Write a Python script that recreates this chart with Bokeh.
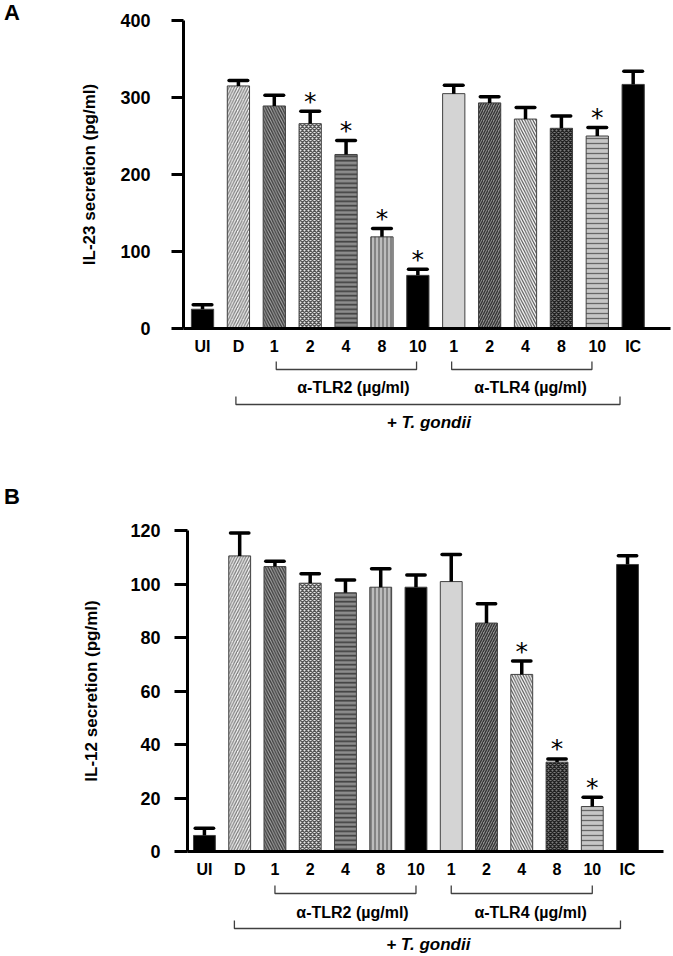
from bokeh.plotting import figure
from bokeh.layouts import column, row
from bokeh.models import Range1d, FixedTicker, ColumnDataSource, Div
from bokeh.core.properties import value
from bokeh.embed import file_html
from bokeh.resources import INLINE

# ---------------- data ----------------
categories = ["UI", "D", "1", "2", "4", "8", "10", "1", "2", "4", "8", "10", "IC"]
il23_mean = [25, 315, 289, 266, 226, 119, 69, 305, 293, 272, 260, 250, 317]
il23_err = [6, 7, 14, 16, 18, 11, 8, 11, 8, 15, 16, 11, 17]
il23_sig = [0, 0, 0, 1, 1, 1, 1, 0, 0, 0, 0, 1, 0]
il12_mean = [6, 110.5, 106.5, 100.3, 96.7, 98.8, 98.8, 100.9, 85.4, 66.2, 33.4, 16.8, 107.3]
il12_err = [2.7, 8.6, 2.0, 3.5, 4.8, 6.9, 4.6, 10.1, 7.2, 5.0, 1.2, 3.5, 3.3]
il12_sig = [0, 0, 0, 0, 0, 0, 0, 0, 0, 1, 1, 1, 0]
il23_ticks = [0, 100, 200, 300, 400]
il12_ticks = [0, 20, 40, 60, 80, 100, 120]
tlr2_group = (2, 6)
tlr4_group = (7, 11)
tg_group = (1, 12)

# ---------------- styles ----------------
FONT = "Liberation Sans"
bar_fill = ["black", "#f4f4f4", "#a8a8a8", "#e8e8e8", "#8c8c8c", "#bcbcbc", "black",
            "#d4d4d4", "#8e8e8e", "white", "#7c7c7c", "#c6c6c6", "black"]
bar_hatch = [" ", "/", "\\", "x", "-", "|", " ", " ", "/", "\\", "x", "-", " "]
bar_hcolor = ["black", "#7a7a7a", "#3c3c3c", "#555555", "#3c3c3c", "#666666", "black",
              "#d4d4d4", "#333333", "#555555", "#222222", "#666666", "black"]
bar_hscale = [6, 5.5, 5.5, 4, 4.5, 4, 6, 6, 5, 5.5, 4, 5, 6]
bar_hweight = [1, 1.3, 1.4, 1.4, 1.6, 1.3, 1, 1, 1.3, 1.2, 1.4, 1.3, 1]

W = 673
LETTER_W = 28


def letter_div(letter, pad_top):
    html = ('<div style="font-family:\'Liberation Sans\',Arial,sans-serif;font-weight:bold;'
            'font-size:22px;line-height:22px;color:black;padding-left:4px;padding-top:%dpx">%s</div>'
            % (pad_top, letter))
    return Div(text=html, width=LETTER_W, height=pad_top + 26, margin=0)


def main_panel(means, errs, sig, ticks, ylabel, x_rng, frame_left, border_right,
               border_top, frame_h, tick_out, lab_standoff, title_standoff):
    x = list(range(len(categories)))
    hi = [m + e for m, e in zip(means, errs)]
    src = ColumnDataSource(dict(
        x=x, top=means, hi=hi,
        cl=[v - 0.26 for v in x], cr=[v + 0.26 for v in x],
        fill=bar_fill, hatch=bar_hatch, hcolor=bar_hcolor, hscale=bar_hscale, hweight=bar_hweight,
    ))
    bottom_border = 32
    p = figure(width=W - LETTER_W, height=border_top + frame_h + bottom_border,
               x_range=x_rng, y_range=Range1d(0, ticks[-1]),
               output_backend="svg", toolbar_location=None,
               min_border_left=frame_left - LETTER_W, min_border_right=border_right,
               min_border_top=border_top, min_border_bottom=bottom_border)
    p.outline_line_color = None
    p.grid.visible = False

    yax = p.yaxis[0]
    yax.ticker = FixedTicker(ticks=ticks)
    yax.axis_line_width = 3
    yax.axis_line_color = "black"
    yax.major_tick_line_width = 3
    yax.major_tick_line_color = "black"
    yax.major_tick_out = tick_out
    yax.major_tick_in = 0
    yax.minor_tick_out = 0
    yax.minor_tick_in = 0
    yax.major_label_standoff = lab_standoff
    yax.major_label_text_font = FONT
    yax.major_label_text_font_style = "bold"
    yax.major_label_text_font_size = "18px"
    yax.major_label_text_color = "black"
    yax.axis_label = ylabel
    yax.axis_label_text_font = FONT
    yax.axis_label_text_font_style = "bold"
    yax.axis_label_text_font_size = "17px"
    yax.axis_label_text_color = "black"
    yax.axis_label_standoff = title_standoff

    xax = p.xaxis[0]
    xax.ticker = FixedTicker(ticks=x)
    xax.major_label_overrides = {i: c for i, c in enumerate(categories)}
    xax.axis_line_width = 3
    xax.axis_line_color = "black"
    xax.major_tick_out = 0
    xax.major_tick_in = 0
    xax.minor_tick_out = 0
    xax.minor_tick_in = 0
    xax.major_label_standoff = 9
    xax.major_label_text_font = FONT
    xax.major_label_text_font_style = "bold"
    xax.major_label_text_font_size = "16px"
    xax.major_label_text_color = "black"

    p.vbar(x="x", top="top", bottom=0, width=0.62, source=src,
           fill_color="fill", hatch_pattern="hatch", hatch_color="hcolor",
           hatch_scale="hscale", hatch_weight="hweight",
           line_color="#404040", line_width=1)
    p.segment(x0="x", y0="top", x1="x", y1="hi", source=src,
              line_color="black", line_width=3.5)
    p.segment(x0="cl", y0="hi", x1="cr", y1="hi", source=src,
              line_color="black", line_width=3.5, line_cap="round")

    sx = [xi for xi, s in zip(x, sig) if s]
    sy = [h for h, s in zip(hi, sig) if s]
    p.text(x=sx, y=sy, text=["*"] * len(sx), text_align="center",
           text_baseline="alphabetic", y_offset=-10,
           text_font=value("DejaVu Sans"), text_font_size="25px", text_color="black")
    return p


def bracket_panel(x_rng, frame_left, border_right, h, y_br, y_txt, y_big, y_tg, tick):
    p = figure(width=W, height=h, x_range=x_rng, y_range=Range1d(0, h),
               output_backend="svg", toolbar_location=None,
               x_axis_type=None, y_axis_type=None,
               min_border_left=frame_left, min_border_right=border_right,
               min_border_top=0, min_border_bottom=0)
    p.outline_line_color = None
    p.grid.visible = False
    a2, b2 = tlr2_group
    a4, b4 = tlr4_group
    at, bt = tg_group
    at -= 0.15
    bt -= 0.2
    p.multi_line(xs=[[a2, a2, b2, b2], [a4, a4, b4, b4], [at, at, bt, bt]],
                 ys=[[y_br + tick, y_br, y_br, y_br + tick],
                     [y_br + tick, y_br, y_br, y_br + tick],
                     [y_big + tick, y_big, y_big, y_big + tick]],
                 line_color="#404040", line_width=1.3)
    p.text(x=[(a2 + b2) / 2 + 0.2, (a4 + b4) / 2 + 0.25], y=[y_txt, y_txt],
           text=["α-TLR2 (µg/ml)", "α-TLR4 (µg/ml)"], text_align="center",
           text_baseline="middle", text_font=value(FONT), text_font_style="bold",
           text_font_size="16px", text_color="black")
    p.text(x=[(a2 + b4) / 2 - 0.15], y=[y_tg], text=["+ T. gondii"], text_align="center",
           text_baseline="middle", text_font=value(FONT), text_font_style="bold italic",
           text_font_size="17px", text_color="black")
    return p


xr_a = Range1d(-0.53, 13.04)
xr_b = Range1d(-0.48, 13.02)

# panel A: canvas rows 0-360, brackets 360-432
pa = main_panel(il23_mean, il23_err, il23_sig, il23_ticks, "IL-23 secretion (pg/ml)",
                xr_a, 183, 3, 20, 308, 12, 21, 18)
la = letter_div("A", 2)
pa2 = bracket_panel(xr_a, 183, 3, 72, 63, 45, 28, 10, 8)
# panel B: canvas rows 432-883, brackets 883-955
pb = main_panel(il12_mean, il12_err, il12_sig, il12_ticks, "IL-12 secretion (pg/ml)",
                xr_b, 187, 10, 98, 321, 13, 14, 26)
lb = letter_div("B", 54)
pb2 = bracket_panel(xr_b, 187, 10, 72, 62, 43, 27, 11, 8)

layout = column(row(la, pa, spacing=0), pa2, row(lb, pb, spacing=0), pb2, spacing=0)
open("out.html", "w").write(file_html(layout, INLINE))
